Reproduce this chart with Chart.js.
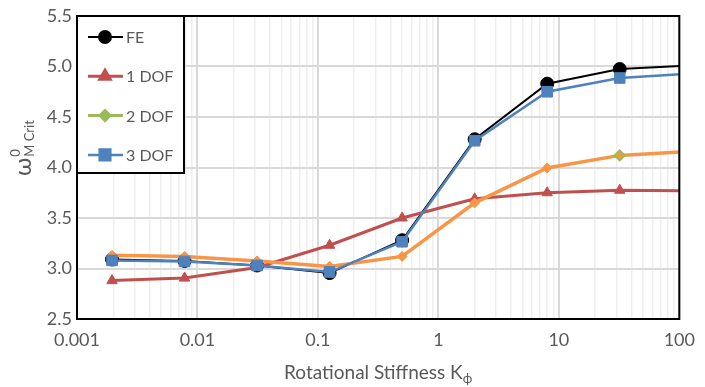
<!DOCTYPE html>
<html>
<head>
<meta charset="utf-8">
<script src="https://cdn.jsdelivr.net/npm/chart.js@4"></script>
<style>
html,body{margin:0;padding:0;background:#fff;}
#wrap{width:705px;height:387px;position:relative;}
</style>
</head>
<body>
<div id="wrap"><canvas id="c" width="705" height="387"></canvas></div>
<script>
// ---- data ----
const kValues = [1/512, 1/128, 1/32, 1/8, 1/2, 2, 8, 32, 128];
const feValues = [3.09, 3.075, 3.03, 2.955, 3.28, 4.28, 4.83, 4.975, 5.01];
const dof1Values = [2.88, 2.905, 3.01, 3.23, 3.50, 3.69, 3.75, 3.775, 3.77];
const dof2Values = [3.13, 3.12, 3.075, 3.02, 3.12, 3.65, 3.995, 4.12, 4.16];
const dof3Values = [3.08, 3.07, 3.03, 2.965, 3.265, 4.265, 4.75, 4.886, 4.93];
const seriesNames = ['FE', '1 DOF', '2 DOF', '3 DOF'];
const xTickLabels = ['0.001', '0.01', '0.1', '1', '10', '100'];
const yTickLabels = ['2.5', '3.0', '3.5', '4.0', '4.5', '5.0', '5.5'];
const xTitle = 'Rotational Stiffness K';
const xTitleSub = 'ϕ';
const yTitle = 'ω';
const yTitleSup = '0';
const yTitleSub = 'M Crit';

const FONT = "Lato, 'Liberation Sans', sans-serif";
const TXT = '#595959';
const isMajor = v => Math.abs(Math.log10(v) - Math.round(Math.log10(v))) < 1e-9;

const legendItems = [
  {name: seriesNames[0], color: '#000000', style: 'circle', r: 6, lw: 2},
  {name: seriesNames[1], color: '#c0504d', style: 'triangle', r: 6, lw: 3},
  {name: seriesNames[2], color: '#9bbb59', style: 'rectRot', r: 5, lw: 3},
  {name: seriesNames[3], color: '#4f81bd', style: 'rect', r: 7.5, lw: 2.5}
];

const decor = {
  id: 'decor',
  afterDatasetsDraw(chart) {
    const {ctx, chartArea: a} = chart;
    ctx.save();
    ctx.strokeStyle = '#000';
    ctx.lineWidth = 2;
    ctx.strokeRect(a.left, a.top, a.right - a.left, a.bottom - a.top);
    const bx = a.left, by = a.top, bw = 107, bh = 157;
    ctx.fillStyle = '#fff';
    ctx.fillRect(bx, by, bw, bh);
    ctx.strokeRect(bx, by, bw, bh);
    legendItems.forEach((it, i) => {
      const y = by + 21 + i * 39.3;
      ctx.strokeStyle = it.color;
      ctx.lineWidth = it.lw;
      ctx.beginPath();
      ctx.moveTo(bx + 11, y);
      ctx.lineTo(bx + 46, y);
      ctx.stroke();
      ctx.fillStyle = it.color;
      ctx.strokeStyle = it.color;
      Chart.helpers.drawPoint(ctx, {pointStyle: it.style, radius: it.r, rotation: 0, borderWidth: 1}, bx + 28, y);
      ctx.fillStyle = TXT;
      ctx.font = '16px ' + FONT;
      ctx.textAlign = 'left';
      ctx.textBaseline = 'middle';
      ctx.fillText(it.name, bx + 49, y + 1);
    });
    ctx.restore();
  },
  afterDraw(chart) {
    const {ctx, chartArea: a} = chart;
    ctx.save();
    ctx.fillStyle = TXT;
    ctx.textBaseline = 'alphabetic';
    ctx.font = '19px ' + FONT;
    const w1 = ctx.measureText(xTitle).width;
    ctx.font = '13px ' + FONT;
    const w2 = ctx.measureText(xTitleSub).width;
    const cx = (a.left + a.right) / 2;
    let x0 = cx - (w1 + w2) / 2;
    ctx.font = '19px ' + FONT;
    ctx.textAlign = 'left';
    ctx.fillText(xTitle, x0, 379);
    ctx.font = '13px ' + FONT;
    ctx.fillText(xTitleSub, x0 + w1, 383);
    ctx.translate(31, 176);
    ctx.rotate(-Math.PI / 2);
    ctx.font = '24px ' + FONT;
    const wo = ctx.measureText(yTitle).width;
    ctx.fillText(yTitle, 0, 0);
    ctx.font = '13px ' + FONT;
    ctx.fillText(yTitleSup, wo + 1, -11);
    ctx.fillText(yTitleSub, wo + 1, 3);
    ctx.restore();
  }
};

const mk = (label, data, color, style, r, lw, order, extra) => Object.assign({
  label, data: kValues.map((k, i) => ({x: k, y: data[i]})),
  borderColor: color, backgroundColor: color, borderWidth: lw,
  pointStyle: style, pointRadius: r, pointHoverRadius: r,
  pointBackgroundColor: color, pointBorderColor: color, pointBorderWidth: 1,
  tension: 0, order
}, extra || {});

new Chart(document.getElementById('c'), {
  type: 'line',
  data: {
    datasets: [
      mk(seriesNames[0], feValues, '#000000', 'circle', 6.5, 2, 4),
      mk(seriesNames[1], dof1Values, '#c0504d', 'triangle', 6, 3, 3),
      mk(seriesNames[2], dof2Values, '#f79646', 'rectRot', 5, 3.5, 2, {
        pointBorderColor: c => c.dataIndex === 7 ? '#9bbb59' : '#f79646',
        pointBorderWidth: c => c.dataIndex === 7 ? 2 : 1
      }),
      mk(seriesNames[3], dof3Values, '#4f81bd', 'rect', 7.5, 2.5, 1)
    ]
  },
  options: {
    responsive: false,
    animation: false,
    events: [],
    layout: {padding: {left: 0, right: 22, top: 16, bottom: 0}},
    plugins: {legend: {display: false}, tooltip: {enabled: false}},
    scales: {
      x: {
        type: 'logarithmic', min: 0.001, max: 100,
        afterBuildTicks: s => {
          const t = [];
          for (let e = -3; e <= 1; e++) for (let n = 1; n <= 9; n++) t.push({value: n * Math.pow(10, e)});
          t.push({value: 100});
          s.ticks = t;
        },
        afterFit: s => { s.height = 68; },
        border: {display: false},
        grid: {
          drawTicks: false,
          color: c => (c.tick && isMajor(c.tick.value)) ? '#d9d9d9' : '#efefef',
          lineWidth: c => (c.tick && isMajor(c.tick.value)) ? 2 : 1.5
        },
        ticks: {
          autoSkip: false, maxRotation: 0, minRotation: 0, padding: 10,
          color: TXT, font: {size: 18, family: FONT},
          callback: v => isMajor(v) ? xTickLabels[Math.round(Math.log10(v)) + 3] : ''
        }
      },
      y: {
        min: 2.5, max: 5.5,
        afterFit: s => { s.width = 77; },
        border: {display: false},
        grid: {drawTicks: false, color: '#d9d9d9', lineWidth: 2},
        ticks: {
          stepSize: 0.5, padding: 5, color: TXT, font: {size: 18, family: FONT},
          callback: (v) => yTickLabels[Math.round((v - 2.5) * 2)]
        }
      }
    }
  },
  plugins: [decor]
});
</script>
</body>
</html>
